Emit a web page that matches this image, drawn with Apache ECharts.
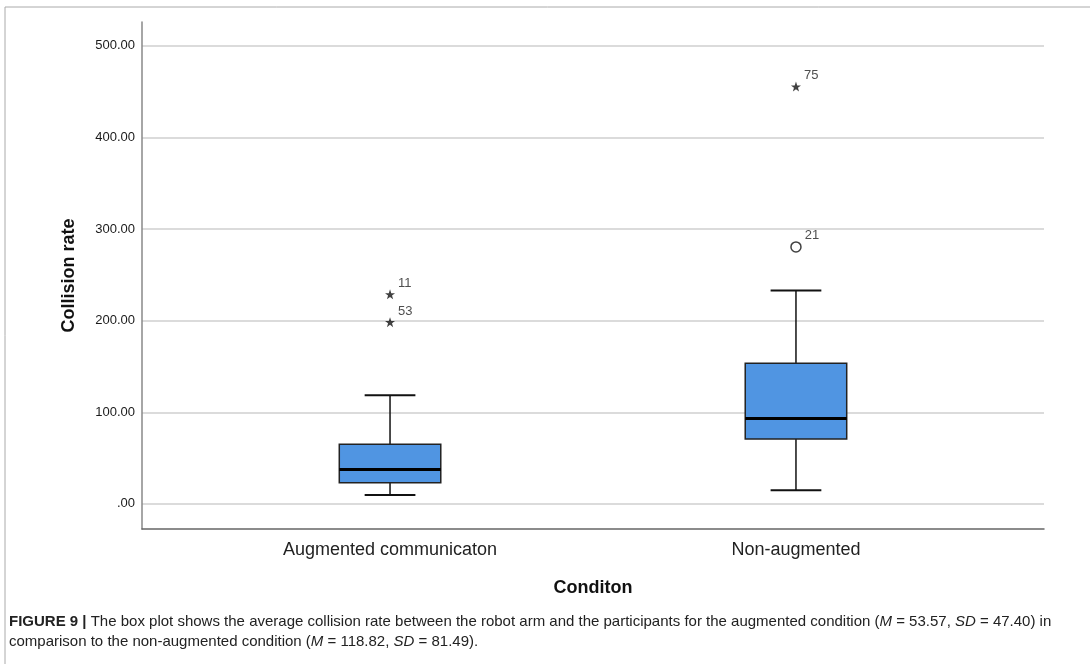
<!DOCTYPE html>
<html>
<head>
<meta charset="utf-8">
<script src="https://cdn.jsdelivr.net/npm/echarts@6/dist/echarts.min.js"></script>
<style>html,body{margin:0;padding:0;background:#fff;}#c{width:1090px;height:664px;}</style>
</head>
<body>
<div id="c"></div>
<script>
// ---- data ----
var categories = ['Augmented communicaton', 'Non-augmented'];
// [min whisker, Q1, median, Q3, max whisker]
var boxStats = [
  [9.8, 23, 37.5, 65, 118.5],
  [15, 70.8, 93.3, 153.5, 233]
];
// outliers: [category index, value, case id]
var extremeOutliers = [[0, 228.7, '11'], [0, 198.4, '53'], [1, 455.5, '75']];
var mildOutliers = [[1, 280.5, '21']];
var yTicks = [0, 100, 200, 300, 400, 500];

var chart = echarts.init(document.getElementById('c'));

var boxData = boxStats.map(function (s, i) { return [i].concat(s); });
var starPath = 'path://M50,0 L61.8,35.3 L97.6,34.5 L69,56.2 L79.4,90.5 L50,70 L20.6,90.5 L31,56.2 L2.4,34.5 L38.2,35.3 Z';
var FF = 'Liberation Sans, Arial, sans-serif';

chart.setOption({
  animation: false,
  backgroundColor: '#fff',
  grid: { left: 142, right: 46, top: 22, bottom: 135 },
  xAxis: {
    type: 'value',
    min: -0.611, max: 1.611,
    axisLine: { show: true, onZero: false, lineStyle: { color: '#666', width: 1.5 } },
    axisTick: { show: false, customValues: [0, 1] },
    splitLine: { show: false },
    axisLabel: {
      customValues: [0, 1],
      formatter: function (v) { return categories[Math.round(v)]; },
      fontFamily: FF, fontSize: 18, color: '#222', margin: 12
    },
    name: 'Conditon', nameLocation: 'middle', nameGap: 50,
    nameTextStyle: { fontFamily: FF, fontSize: 18, fontWeight: 'bold', color: '#111' }
  },
  yAxis: {
    type: 'value',
    min: -27.4, max: 526,
    axisLine: { show: true, onZero: false, lineStyle: { color: '#888', width: 1.5 } },
    axisTick: { show: false, customValues: yTicks },
    splitLine: { show: true, lineStyle: { color: '#cfcfcf', width: 1.5 } },
    axisLabel: {
      customValues: yTicks,
      formatter: function (v) { return v === 0 ? '.00' : v.toFixed(2); },
      fontFamily: FF, fontSize: 13, color: '#1a1a1a', margin: 7
    },
    name: 'Collision rate', nameLocation: 'middle', nameGap: 64, nameRotate: 90,
    nameTextStyle: { fontFamily: FF, fontSize: 18, fontWeight: 'bold', color: '#111' }
  },
  graphic: [
    { type: 'line', shape: { x1: 5, y1: 7, x2: 5, y2: 664 }, style: { stroke: '#aaa', lineWidth: 1 } },
    { type: 'line', shape: { x1: 5, y1: 7, x2: 1090, y2: 7 }, style: { stroke: '#aaa', lineWidth: 1 } },
    {
      type: 'text', left: 9, top: 612,
      style: {
        text: '{b|FIGURE 9 |} The box plot shows the average collision rate between the robot arm and the participants for the augmented condition ({i|M} = 53.57, {i|SD} = 47.40) in\ncomparison to the non-augmented condition ({i|M} = 118.82, {i|SD} = 81.49).',
        font: '15px Liberation Sans, Arial, sans-serif', fill: '#222', lineHeight: 20,
        rich: {
          b: { fontWeight: 'bold', fontSize: 15, fontFamily: FF, fill: '#222', lineHeight: 20 },
          i: { fontStyle: 'italic', fontSize: 15, fontFamily: FF, fill: '#222', lineHeight: 20 }
        }
      }
    }
  ],
  series: [
    {
      type: 'custom',
      data: boxData,
      encode: { x: 0, y: [1, 2, 3, 4, 5] },
      renderItem: function (params, api) {
        var c = api.value(0);
        var band = api.size([1, 0])[0];
        var half = band * 0.125;
        var capHalf = band * 0.0625;
        var pMin = api.coord([c, api.value(1)]);
        var pQ1 = api.coord([c, api.value(2)]);
        var pMed = api.coord([c, api.value(3)]);
        var pQ3 = api.coord([c, api.value(4)]);
        var pMax = api.coord([c, api.value(5)]);
        var x = pMin[0];
        var ls = { stroke: '#111', lineWidth: 1.5 };
        return {
          type: 'group',
          children: [
            { type: 'line', shape: { x1: x, y1: pQ3[1], x2: x, y2: pMax[1] }, style: ls },
            { type: 'line', shape: { x1: x, y1: pQ1[1], x2: x, y2: pMin[1] }, style: ls },
            { type: 'line', shape: { x1: x - capHalf, y1: pMax[1], x2: x + capHalf, y2: pMax[1] }, style: { stroke: '#111', lineWidth: 2 } },
            { type: 'line', shape: { x1: x - capHalf, y1: pMin[1], x2: x + capHalf, y2: pMin[1] }, style: { stroke: '#111', lineWidth: 2 } },
            { type: 'rect', shape: { x: x - half, y: pQ3[1], width: half * 2, height: pQ1[1] - pQ3[1] }, style: { fill: '#5095e2', stroke: '#222', lineWidth: 1.5 } },
            { type: 'line', shape: { x1: x - half, y1: pMed[1], x2: x + half, y2: pMed[1] }, style: { stroke: '#000', lineWidth: 3 } }
          ]
        };
      },
      z: 3
    },
    {
      type: 'scatter',
      data: extremeOutliers,
      symbol: starPath,
      symbolSize: 10,
      itemStyle: { color: '#111' },
      label: {
        show: true, formatter: function (p) { return p.data[2]; },
        position: 'right', offset: [-2, -11],
        fontFamily: FF, fontSize: 13, color: '#222'
      },
      z: 4
    },
    {
      type: 'scatter',
      data: mildOutliers,
      symbol: 'circle',
      symbolSize: 10,
      itemStyle: { color: '#fff', borderColor: '#111', borderWidth: 1.5 },
      label: {
        show: true, formatter: function (p) { return p.data[2]; },
        position: 'right', offset: [-2, -11],
        fontFamily: FF, fontSize: 13, color: '#222'
      },
      z: 4
    }
  ]
});
</script>
</body>
</html>
